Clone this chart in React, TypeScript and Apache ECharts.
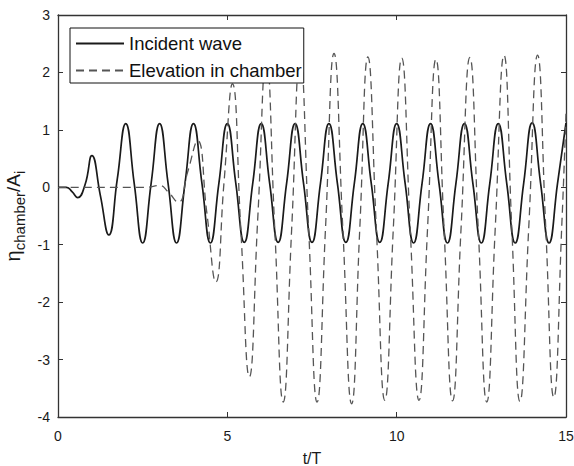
import React, { useEffect, useRef } from "react";
import * as echarts from "echarts";

// Incident wave (solid)
const incidentT = [
  0, 0.25, 0.42, 0.58, 0.8, 1.0, 1.25, 1.5, 1.75,
  2, 2.25, 2.5, 2.75, 3, 3.25, 3.5, 3.75, 4, 4.25, 4.5, 4.75,
  5, 5.25, 5.5, 5.75, 6, 6.25, 6.5, 6.75, 7, 7.25, 7.5, 7.75,
  8, 8.25, 8.5, 8.75, 9, 9.25, 9.5, 9.75, 10, 10.25, 10.5, 10.75,
  11, 11.25, 11.5, 11.75, 12, 12.25, 12.5, 12.75, 13, 13.25, 13.5, 13.75,
  14, 14.25, 14.5, 14.75, 15,
];
const incidentY = [
  0, 0, -0.08, -0.18, 0.05, 0.55, -0.14, -0.83, 0.14,
  1.11, 0.07, -0.97, 0.07, 1.11, 0.07, -0.97, 0.07, 1.11, 0.07, -0.97, 0.07,
  1.11, 0.07, -0.96, 0.07, 1.11, 0.07, -0.96, 0.07, 1.11, 0.07, -0.96, 0.07,
  1.11, 0.07, -0.96, 0.07, 1.11, 0.07, -0.96, 0.07, 1.11, 0.07, -0.97, 0.07,
  1.11, 0.07, -0.97, 0.07, 1.11, 0.07, -0.97, 0.07, 1.11, 0.07, -0.97, 0.07,
  1.12, 0.07, -0.97, 0.07, 1.12,
];

// Elevation in chamber (dashed)
const chamberT = [
  0, 2.6, 3.0, 3.25, 3.55, 3.83, 4.12, 4.39, 4.66, 4.9, 5.15, 5.4, 5.65, 5.9,
  6.15, 6.4, 6.65, 6.9, 7.15, 7.4, 7.65, 7.9, 8.15, 8.41, 8.67, 8.91,
  9.15, 9.4, 9.65, 9.9, 10.15, 10.4, 10.66, 10.91, 11.16, 11.4, 11.65, 11.9,
  12.16, 12.41, 12.66, 12.91, 13.17, 13.4, 13.64, 13.9, 14.16, 14.4, 14.64, 14.88, 15,
];
const chamberY = [
  0, 0, 0.03, -0.08, -0.26, 0.27, 0.81, -0.42, -1.65, 0.07, 1.8, -0.76, -3.3, -0.52,
  2.25, -0.72, -3.74, -0.72, 2.28, -0.72, -3.74, -0.7, 2.33, -0.72, -3.77, -0.73,
  2.27, -0.72, -3.71, -0.73, 2.25, -0.73, -3.71, -0.74, 2.23, -0.74, -3.72, -0.73,
  2.26, -0.74, -3.74, -0.72, 2.3, -0.72, -3.73, -0.7, 2.3, -0.68, -3.66, -0.6, 1.3,
];

const seriesNames = ["Incident wave", "Elevation in chamber"];
const xTicks = { min: 0, max: 15, interval: 5 };
const yTicks = { min: -4, max: 3, interval: 1 };

const FONT = "Arial, 'Liberation Sans', Helvetica, sans-serif";

export default function App() {
  const ref = useRef<HTMLDivElement>(null);
  useEffect(() => {
    document.body.style.margin = "0";
    const chart = echarts.init(ref.current!, null, { renderer: "svg" });
    const axisLine = { show: true, onZero: false, lineStyle: { color: "#333", width: 1.3 } };
    const tick = { show: true, inside: true, length: 5, lineStyle: { color: "#333", width: 1 } };
    chart.setOption({
      animation: false,
      backgroundColor: "#fff",
      grid: { left: 58, right: 8, top: 15, bottom: 49, containLabel: false, outerBoundsMode: "none" },
      legend: {
        orient: "vertical",
        left: 70,
        top: 28,
        data: seriesNames,
        itemWidth: 48,
        itemHeight: 14,
        itemGap: 8,
        padding: [6, 2, 3, 5],
        backgroundColor: "#fff",
        borderColor: "#111",
        borderWidth: 1,
        borderRadius: 0,
        itemStyle: { color: "transparent", borderColor: "transparent", borderWidth: 0, opacity: 0 },
        textStyle: { fontSize: 18.5, color: "#111", fontFamily: FONT },
      },
      xAxis: [
        {
          type: "value",
          position: "bottom",
          ...xTicks,
          axisLine,
          axisTick: tick,
          splitLine: { show: false },
          axisLabel: { fontSize: 14, color: "#1a1a1a", fontFamily: FONT, margin: 12 },
          name: "t/T",
          nameLocation: "middle",
          nameGap: 33,
          nameTextStyle: { fontSize: 16, color: "#1a1a1a", fontFamily: FONT },
        },
        {
          type: "value",
          position: "top",
          ...xTicks,
          axisLine,
          axisTick: tick,
          splitLine: { show: false },
          axisLabel: { show: false },
        },
      ],
      yAxis: [
        {
          type: "value",
          position: "left",
          ...yTicks,
          axisLine,
          axisTick: tick,
          splitLine: { show: false },
          axisLabel: { fontSize: 14, color: "#1a1a1a", fontFamily: FONT, margin: 8 },
          name: "{eta|η}{sub|chamber}{n|/A}{sub|i}",
          nameLocation: "middle",
          nameGap: 26,
          nameTextStyle: {
            color: "#1a1a1a",
            fontFamily: FONT,
            rich: {
              eta: { fontSize: 20, fontFamily: FONT, color: "#1a1a1a" },
              n: { fontSize: 19, fontFamily: FONT, color: "#1a1a1a" },
              sub: { fontSize: 15, fontFamily: FONT, color: "#1a1a1a", padding: [12, 0, 0, 0] },
            },
          },
        },
        {
          type: "value",
          position: "right",
          ...yTicks,
          axisLine,
          axisTick: tick,
          splitLine: { show: false },
          axisLabel: { show: false },
        },
      ],
      series: [
        {
          name: seriesNames[0],
          type: "line",
          xAxisIndex: 0,
          yAxisIndex: 0,
          data: incidentT.map((t, i) => [t, incidentY[i]]),
          smooth: 0.5,
          symbol: "none",
          lineStyle: { color: "#1a1a1a", width: 1.7, type: "solid" },
          itemStyle: { color: "#1a1a1a" },
        },
        {
          name: seriesNames[1],
          type: "line",
          xAxisIndex: 0,
          yAxisIndex: 0,
          data: chamberT.map((t, i) => [t, chamberY[i]]),
          smooth: 0.5,
          symbol: "none",
          lineStyle: { color: "#555", width: 1.3, type: [8, 5] },
          itemStyle: { color: "#555" },
        },
      ],
    });
    return () => chart.dispose();
  }, []);
  return <div ref={ref} style={{ width: 574, height: 466 }} />;
}
